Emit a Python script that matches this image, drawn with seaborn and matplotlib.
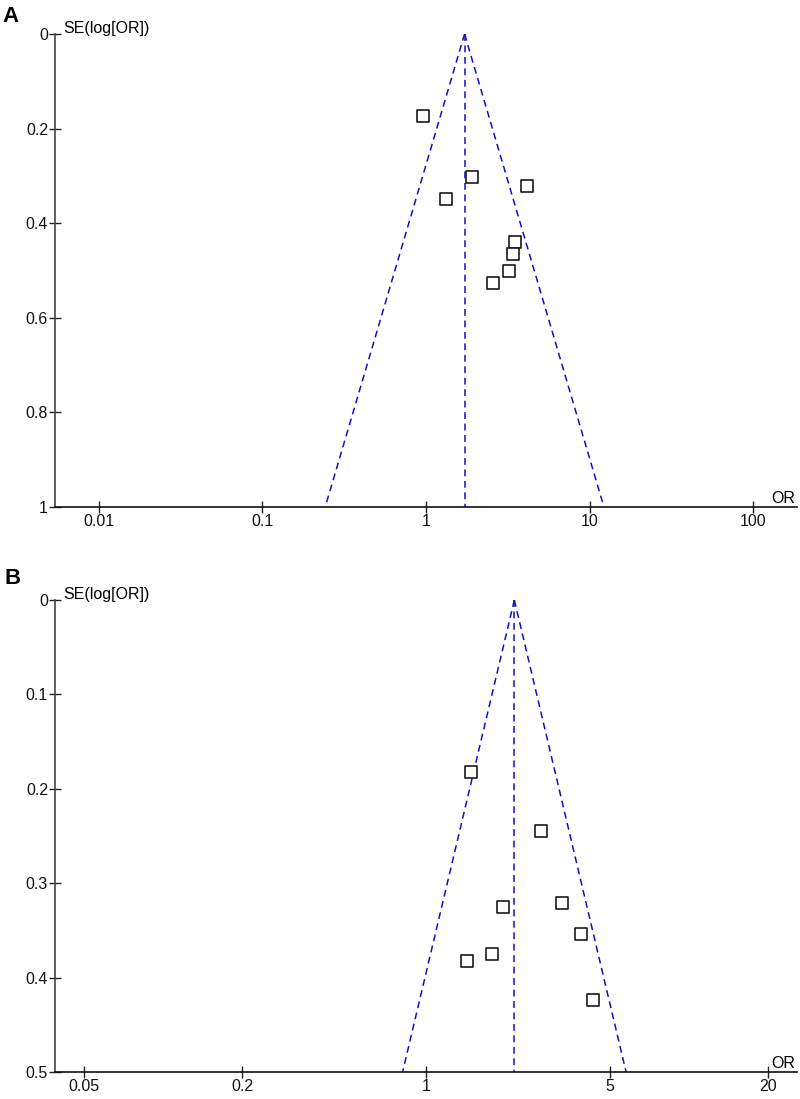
import numpy as np
import pandas as pd
import seaborn as sns
import matplotlib.pyplot as plt
from matplotlib.ticker import NullLocator

# panel A studies
or_a = [0.96, 1.90, 4.12, 1.33, 3.48, 3.41, 3.23, 2.58]
se_a = [0.173, 0.302, 0.321, 0.349, 0.440, 0.466, 0.500, 0.526]
pooled_a = 1.72
xticks_a = [0.01, 0.1, 1, 10, 100]
xlabels_a = ['0.01', '0.1', '1', '10', '100']
yticks_a = [0, 0.2, 0.4, 0.6, 0.8, 1]
ylabels_a = ['0', '0.2', '0.4', '0.6', '0.8', '1']

# panel B studies
or_b = [1.48, 2.73, 3.30, 1.97, 3.90, 1.79, 1.43, 4.33]
se_b = [0.182, 0.2445, 0.321, 0.3256, 0.354, 0.375, 0.382, 0.4236]
pooled_b = 2.17
xticks_b = [0.05, 0.2, 1, 5, 20]
xlabels_b = ['0.05', '0.2', '1', '5', '20']
yticks_b = [0, 0.1, 0.2, 0.3, 0.4, 0.5]
ylabels_b = ['0', '0.1', '0.2', '0.3', '0.4', '0.5']

sns.set_style('white')
plt.rcParams['font.family'] = ['Liberation Sans', 'DejaVu Sans']
plt.rcParams['text.color'] = 'black'

fig = plt.figure(figsize=(8, 10.99), dpi=100)
ax_a = fig.add_axes([55/800, 592/1099, 742/800, 473/1099])
ax_b = fig.add_axes([55/800, 27/1099, 742/800, 472/1099])

funnel_col = '#1010c8'


def funnel(ax, ors, ses, pooled, se_max, xlim, xticks, xlabels, yticks, ylabels):
    df = pd.DataFrame({'OR': ors, 'SE': ses})
    se_line = np.array([0, se_max])
    ax.plot(pooled * np.exp(-1.96 * se_line), se_line, ls=(0, (4.5, 3)), color=funnel_col, lw=1.1)
    ax.plot(pooled * np.exp(1.96 * se_line), se_line, ls=(0, (4.5, 3)), color=funnel_col, lw=1.1)
    ax.plot([pooled, pooled], se_line, ls=(0, (4.5, 3)), color=funnel_col, lw=1.1)
    sns.scatterplot(x='OR', y='SE', data=df, ax=ax, marker='s', s=68,
                    facecolor='white', edgecolor='#1a1a1a', linewidth=1.2, zorder=5)
    ax.set_xscale('log')
    ax.set_xlim(xlim)
    ax.set_ylim(se_max, 0)
    ax.set_xticks(xticks)
    ax.set_xticklabels(xlabels)
    ax.xaxis.set_minor_locator(NullLocator())
    ax.set_yticks(yticks)
    ax.set_yticklabels(ylabels)
    ax.set_xlabel('')
    ax.set_ylabel('')
    for s in ['top', 'right']:
        ax.spines[s].set_visible(False)
    ax.spines['left'].set_color('#444444')
    ax.spines['bottom'].set_color('#111111')
    ax.spines['left'].set_linewidth(1.2)
    ax.spines['bottom'].set_linewidth(1.2)
    ax.tick_params(axis='both', bottom=True, left=True, direction='inout', length=8, width=1.0,
                   labelsize=11.5, color='#222222', labelcolor='#111111')
    ax.tick_params(axis='y', pad=1)
    ax.tick_params(axis='x', pad=1)
    ax.annotate('SE(log[OR])', xy=(0, 1), xycoords='axes fraction', xytext=(6, 1),
                textcoords='offset points', ha='left', va='baseline', fontsize=11.5)
    ax.annotate('OR', xy=(1, 0), xycoords='axes fraction', xytext=(-1, 3),
                textcoords='offset points', ha='right', va='baseline', fontsize=11.5)


funnel(ax_a, or_a, se_a, pooled_a, 1.0, (10**-2.266, 10**2.266),
       xticks_a, xlabels_a, yticks_a, ylabels_a)
funnel(ax_b, or_b, se_b, pooled_b, 0.5, (10**-1.413, 10**1.413),
       xticks_b, xlabels_b, yticks_b, ylabels_b)

fig.text(2/800, 1 - 6/1099, 'A', fontsize=16, fontweight='bold', ha='left', va='top')
fig.text(4/800, 1 - 568/1099, 'B', fontsize=16, fontweight='bold', ha='left', va='top')

fig.savefig('out.png', dpi=100)
plt.close(fig)
